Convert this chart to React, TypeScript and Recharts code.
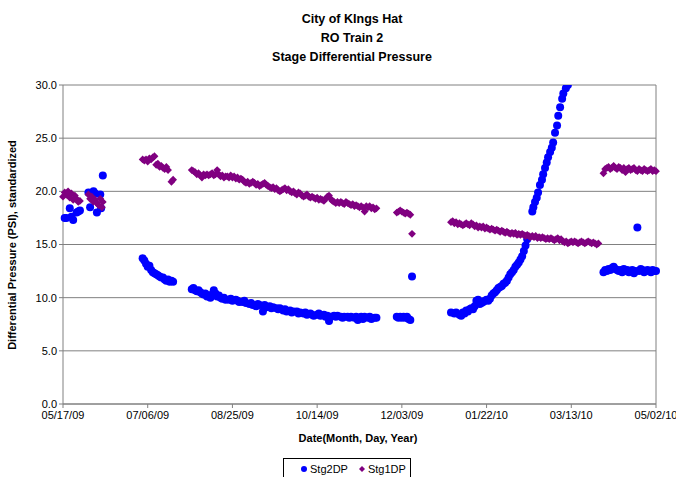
import {
  CartesianGrid,
  ReferenceLine,
  Scatter,
  ScatterChart,
  XAxis,
  YAxis,
} from "recharts";

// x = days since 05/17/09, y = PSI (standardized)
const DATE_TICKS = ["05/17/09", "07/06/09", "08/25/09", "10/14/09", "12/03/09", "01/22/10", "03/13/10", "05/02/10"];
const X_TICKS = [0, 50, 100, 150, 200, 250, 300, 350];
const Y_TICKS = [0, 5, 10, 15, 20, 25, 30];

const STG2_STARTUP: [number, number][] = [
  [1, 17.5], [2, 17.5], [4, 18.4], [5, 17.6], [6, 17.3], [8, 18.0], [9, 18.1], [10, 18.2],
  [15, 19.9], [16, 18.5], [18, 20.0], [19, 19.8], [20, 18.0], [22, 19.7], [22.5, 18.4], [23.5, 21.5],
];
const STG2_JULY: [number, number][] = [
  [47, 13.7], [48, 13.5], [49, 13.2], [50, 12.9], [51, 13.0], [52, 12.6], [53, 12.4], [54, 12.3],
  [55, 12.2], [56, 12.1], [57, 12.0], [58, 11.9], [59, 11.9], [60, 11.7], [61, 11.6], [62, 11.7],
  [63, 11.5], [64, 11.6], [65, 11.5],
];
const STG2_FALL: [number, number][] = [
  [76, 10.8], [77, 10.9], [78, 10.7], [79, 10.6], [80, 10.7], [81, 10.5], [82, 10.4], [83, 10.3],
  [84, 10.4], [85, 10.1], [86, 10.2], [87, 10.0], [88, 10.3], [89, 10.7], [90, 10.4], [91, 10.1],
  [92, 10.2], [93, 10.0], [94, 9.9], [95, 10.0], [96, 9.8], [98, 9.8], [99, 9.9], [100, 9.7],
  [102, 9.8], [103, 9.7], [104, 9.6], [106, 9.6], [107, 9.7], [108, 9.5], [110, 9.4], [111, 9.5],
  [112, 9.3], [114, 9.2], [115, 9.4], [116, 9.3], [118, 8.7], [119, 9.3], [120, 9.1], [122, 9.2],
  [123, 9.0], [124, 9.1], [126, 9.0], [127, 8.9], [128, 9.0], [130, 8.8], [131, 8.9], [132, 8.7],
  [134, 8.8], [135, 8.6], [136, 8.7], [138, 8.7], [139, 8.5], [140, 8.6], [142, 8.5], [143, 8.6],
  [144, 8.4], [146, 8.5], [147, 8.4], [148, 8.3], [150, 8.4], [151, 8.5], [152, 8.3], [154, 8.4],
  [155, 8.2], [156, 8.3], [157, 7.8], [158, 8.2], [160, 8.3], [161, 8.2], [162, 8.3], [164, 8.2],
  [165, 8.1], [166, 8.2], [168, 8.2], [169, 8.1], [170, 8.2], [172, 8.1], [173, 8.2], [174, 7.9],
  [176, 8.2], [177, 8.0], [178, 8.2], [180, 8.1], [181, 8.2], [182, 8.0], [184, 8.1], [185, 8.1],
];
const STG2_DEC: [number, number][] = [
  [197, 8.2], [198, 8.1], [199, 8.2], [200, 8.1], [201, 8.2], [202, 8.1], [203, 8.2], [204, 8.0],
  [205, 7.9], [206, 12.0],
];
const STG2_WINTER: [number, number][] = [
  [229, 8.6], [231, 8.5], [232, 8.6], [234, 8.4], [235, 8.3], [236, 8.6], [237, 8.5], [238, 8.8],
  [239, 8.7], [240, 8.9], [241, 9.0], [242, 8.9], [243, 9.2], [244, 9.7], [245, 9.8], [246, 9.4],
  [247, 9.5], [248, 9.6], [249, 9.7], [250, 9.8], [251, 9.7], [252, 9.9], [253, 10.2], [254, 10.4],
  [255, 10.5], [256, 10.7], [257, 10.9], [258, 11.0], [259, 11.1], [260, 11.3], [261, 11.4], [262, 11.6],
  [263, 11.9], [264, 12.2], [265, 12.4], [266, 12.6], [267, 12.9], [268, 13.1], [269, 13.3], [270, 13.6],
  [271, 13.9], [272, 14.4], [273, 14.9], [274, 15.5], [277, 18.1], [277.6, 18.5], [278.6, 19.0], [279.6, 19.4],
  [280.4, 19.9], [281.5, 20.6], [282.7, 21.1], [283.4, 21.6], [284.5, 22.2], [285.5, 22.7], [286.3, 23.2], [287.5, 23.7],
  [288.5, 24.1], [289.3, 24.6], [290.4, 25.5], [291.6, 26.2], [292.3, 27.1], [293.4, 27.9], [294.6, 28.7], [295.3, 29.2],
  [296.8, 29.7], [298, 30.0],
];
const STG2_SPRING: [number, number][] = [
  [319, 12.4], [320, 12.6], [321, 12.5], [322, 12.7], [323, 12.6], [324, 12.8], [325, 12.9], [326, 12.7],
  [327, 12.6], [328, 12.5], [329, 12.6], [330, 12.4], [331, 12.7], [332, 12.5], [333, 12.6], [334, 12.4],
  [335, 12.5], [336, 12.6], [337, 12.3], [338, 12.5], [339, 16.6], [340, 12.5], [341, 12.7], [342, 12.6],
  [343, 12.4], [344, 12.5], [345, 12.6], [346, 12.5], [347, 12.4], [348, 12.6], [349, 12.5], [350, 12.5],
];

const STG1_STARTUP: [number, number][] = [
  [0, 19.5], [1, 19.9], [2, 19.7], [3, 20.0], [4, 19.4], [5, 19.8], [6, 19.2], [7, 19.6],
  [8, 19.3], [9, 19.0], [10, 19.1], [15, 19.7], [16, 19.3], [17, 19.5], [18, 19.0], [19, 19.2],
  [20, 18.9], [21, 18.7], [22, 19.3], [23, 18.5], [23.5, 19.0],
];
const STG1_JULY: [number, number][] = [
  [47, 23.0], [48, 22.9], [49, 23.0], [50, 22.8], [51, 23.1], [52, 23.0], [53, 23.2], [54, 23.3],
  [55, 22.5], [56, 22.6], [57, 22.3], [58, 22.4], [59, 22.2], [60, 22.1], [61, 22.3], [62, 22.0],
  [64, 20.9], [65, 21.1],
];
const STG1_FALL: [number, number][] = [
  [76, 22.0], [77, 21.9], [78, 21.8], [79, 21.6], [80, 21.7], [81, 21.5], [82, 21.3], [83, 21.6],
  [84, 21.5], [85, 21.6], [86, 21.5], [87, 21.6], [88, 21.7], [89, 21.5], [90, 21.6], [91, 22.0],
  [92, 21.6], [93, 21.4], [94, 21.5], [95, 21.3], [96, 21.4], [97, 21.4], [98, 21.3], [99, 21.5],
  [100, 21.3], [101, 21.4], [102, 21.2], [103, 21.3], [104, 21.1], [105, 21.2], [106, 21.1], [107, 20.9],
  [108, 20.8], [109, 20.9], [110, 20.7], [111, 20.8], [112, 20.9], [113, 20.8], [114, 20.6], [115, 20.7],
  [116, 20.5], [117, 20.6], [118, 20.7], [119, 20.8], [120, 20.6], [121, 20.5], [122, 20.4], [123, 20.3],
  [124, 20.4], [125, 20.2], [126, 20.3], [127, 20.1], [128, 20.0], [129, 20.1], [130, 20.2], [131, 20.3],
  [132, 20.1], [133, 20.2], [134, 20.0], [135, 19.9], [136, 20.0], [137, 19.8], [138, 19.7], [139, 19.9],
  [140, 19.8], [141, 19.6], [142, 19.5], [143, 19.6], [144, 19.7], [145, 19.5], [146, 19.4], [147, 19.5],
  [148, 19.4], [149, 19.3], [150, 19.4], [151, 19.2], [152, 19.3], [153, 19.2], [154, 19.1], [155, 19.3],
  [156, 19.5], [157, 19.6], [158, 19.3], [159, 19.1], [160, 19.0], [161, 18.9], [162, 19.0], [163, 18.9],
  [164, 19.0], [165, 18.9], [166, 18.8], [167, 19.0], [168, 18.9], [169, 18.8], [170, 18.7], [171, 18.8],
  [172, 18.6], [173, 18.7], [174, 18.6], [175, 18.5], [176, 18.6], [177, 18.5], [178, 18.1], [179, 18.6],
  [180, 18.5], [181, 18.6], [182, 18.4], [183, 18.5], [184, 18.3], [185, 18.4],
];
const STG1_DEC: [number, number][] = [
  [197, 18.0], [198, 18.1], [199, 18.2], [200, 18.1], [201, 18.0], [202, 17.9], [203, 18.0], [204, 17.9],
  [205, 17.8], [206, 16.0],
];
const STG1_WINTER: [number, number][] = [
  [229, 17.1], [230, 17.2], [231, 17.0], [232, 17.1], [233, 16.9], [234, 17.0], [235, 16.9], [236, 16.8],
  [237, 16.9], [238, 17.0], [239, 16.9], [240, 16.8], [241, 17.0], [242, 16.9], [243, 16.7], [244, 16.8],
  [245, 16.6], [246, 16.7], [247, 16.6], [248, 16.7], [249, 16.5], [250, 16.6], [251, 16.5], [252, 16.4],
  [253, 16.5], [254, 16.4], [255, 16.3], [256, 16.4], [257, 16.3], [258, 16.2], [259, 16.3], [260, 16.2],
  [261, 16.1], [262, 16.2], [263, 16.1], [264, 16.0], [265, 16.1], [266, 16.0], [267, 16.1], [268, 15.9],
  [269, 16.0], [270, 15.9], [271, 16.0], [272, 15.9], [273, 15.8], [274, 15.9], [275, 15.8], [276, 15.7],
  [277, 15.8], [278, 15.7], [279, 15.8], [280, 15.6], [281, 15.7], [282, 15.6], [283, 15.7], [284, 15.6],
  [285, 15.5], [286, 15.6], [287, 15.5], [288, 15.6], [289, 15.5], [290, 15.4], [291, 15.5], [292, 15.6],
  [293, 15.4], [294, 15.5], [295, 15.3], [296, 15.2], [297, 15.3], [298, 15.1], [299, 15.2], [300, 15.3],
  [301, 15.2], [302, 15.3], [303, 15.2], [304, 15.1], [305, 15.2], [306, 15.3], [307, 15.2], [308, 15.1],
  [309, 15.2], [310, 15.3], [311, 15.2], [312, 15.1], [313, 15.2], [314, 15.1], [315, 15.0], [316, 15.1],
];
const STG1_SPRING: [number, number][] = [
  [319, 21.7], [320, 22.1], [321, 22.2], [322, 22.3], [323, 22.1], [324, 22.2], [325, 22.4], [326, 22.2],
  [327, 22.1], [328, 22.3], [329, 22.2], [330, 22.0], [331, 22.2], [332, 21.8], [333, 22.1], [334, 22.2],
  [335, 22.0], [336, 22.1], [337, 22.2], [338, 22.0], [339, 21.9], [340, 22.1], [341, 22.0], [342, 21.9],
  [343, 22.1], [344, 22.0], [345, 21.9], [346, 22.0], [347, 22.1], [348, 21.9], [349, 22.0], [350, 21.9],
];

const toPoints = (...parts: [number, number][][]) =>
  parts.flat().map(([day, psi]) => ({ day, psi }));

const stg2 = toPoints(STG2_STARTUP, STG2_JULY, STG2_FALL, STG2_DEC, STG2_WINTER, STG2_SPRING);
const stg1 = toPoints(STG1_STARTUP, STG1_JULY, STG1_FALL, STG1_DEC, STG1_WINTER, STG1_SPRING);

const FONT = "Arial, 'Liberation Sans', sans-serif";
const BLUE = "#0000ff";
const PURPLE = "#800080";
const GRID = "#808080";

const BlueDot = (p: any) => <circle cx={p.cx} cy={p.cy} r={4} fill={BLUE} />;
const PurpleDiamond = (p: any) => {
  const { cx, cy } = p;
  const r = 3.9;
  return <polygon points={`${cx},${cy - r} ${cx + r},${cy} ${cx},${cy + r} ${cx - r},${cy}`} fill={PURPLE} />;
};

export default function App() {
  return (
    <div
      style={{
        position: "absolute",
        left: 0,
        top: 0,
        width: 676,
        height: 477,
        overflow: "hidden",
        background: "#fff",
        fontFamily: FONT,
        color: "#000",
      }}
    >
      <div
        style={{
          position: "absolute",
          left: 202,
          top: 10,
          width: 300,
          textAlign: "center",
          fontWeight: "bold",
          fontSize: 12.5,
          lineHeight: "19px",
        }}
      >
        City of KIngs Hat
        <br />
        RO Train 2
        <br />
        Stage Differential Pressure
      </div>

      <ScatterChart width={676} height={477} margin={{ top: 85, right: 20, bottom: 43, left: 0 }}>
        <CartesianGrid vertical={false} stroke={GRID} strokeWidth={1} />
        <XAxis
          type="number"
          dataKey="day"
          domain={[0, 350]}
          ticks={X_TICKS}
          tickFormatter={(v: number) => DATE_TICKS[Math.round(v / 50)]}
          stroke={GRID}
          tickSize={4}
          tickMargin={3}
          height={30}
          tick={{ fill: "#000", fontSize: 11, fontFamily: FONT }}
        />
        <YAxis
          type="number"
          dataKey="psi"
          domain={[0, 30]}
          ticks={Y_TICKS}
          allowDataOverflow
          tickFormatter={(v: number) => v.toFixed(1)}
          stroke={GRID}
          tickSize={4}
          tickMargin={2}
          width={63}
          tick={{ fill: "#000", fontSize: 11, fontFamily: FONT }}
        />
        <ReferenceLine x={350} stroke={GRID} />
        <Scatter name="Stg2DP" data={stg2} shape={BlueDot} isAnimationActive={false} />
        <Scatter name="Stg1DP" data={stg1} shape={PurpleDiamond} isAnimationActive={false} />
      </ScatterChart>

      <div
        style={{
          position: "absolute",
          left: -118,
          top: 238,
          width: 260,
          height: 14,
          lineHeight: "14px",
          textAlign: "center",
          fontWeight: "bold",
          fontSize: 11,
          transform: "rotate(-90deg)",
        }}
      >
        Differential Pressure (PSI), standardized
      </div>
      <div
        style={{
          position: "absolute",
          left: 208,
          top: 431,
          width: 300,
          textAlign: "center",
          fontWeight: "bold",
          fontSize: 11,
          lineHeight: "14px",
        }}
      >
        Date(Month, Day, Year)
      </div>

      <div
        style={{
          position: "absolute",
          left: 283,
          top: 458,
          width: 128,
          height: 24,
          border: "1px solid #000",
          fontSize: 11,
          display: "flex",
          alignItems: "flex-start",
          paddingTop: 2,
          boxSizing: "border-box",
        }}
      >
        <svg width={10} height={12} style={{ marginLeft: 15, marginTop: 2 }}>
          <circle cx={5} cy={6} r={3} fill={BLUE} />
        </svg>
        <span style={{ marginLeft: 1, lineHeight: "16px" }}>Stg2DP</span>
        <svg width={10} height={12} style={{ marginLeft: 9, marginTop: 2 }}>
          <polygon points="5,3 8,6 5,9 2,6" fill={PURPLE} />
        </svg>
        <span style={{ marginLeft: 1, lineHeight: "16px" }}>Stg1DP</span>
      </div>
    </div>
  );
}
